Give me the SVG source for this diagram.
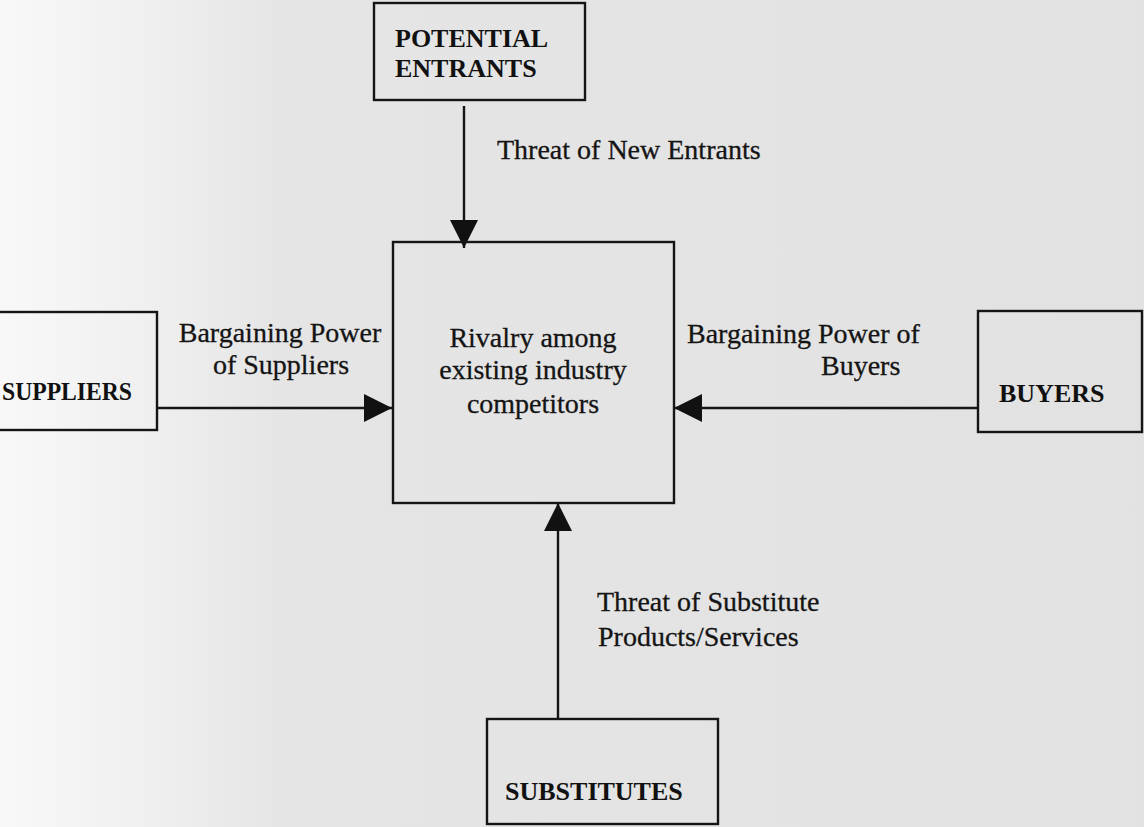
<svg xmlns="http://www.w3.org/2000/svg" width="1144" height="827" viewBox="0 0 1144 827">
  <defs>
    <linearGradient id="paper" x1="0" y1="0" x2="1" y2="0">
      <stop offset="0" stop-color="#f8f8f8"/>
      <stop offset="0.12" stop-color="#f0f0f0"/>
      <stop offset="0.25" stop-color="#e5e5e5"/>
      <stop offset="1" stop-color="#e2e2e2"/>
    </linearGradient>
    <marker id="arrow" markerUnits="userSpaceOnUse" markerWidth="30" markerHeight="30" viewBox="0 0 30 30" refX="29" refY="15" orient="auto">
      <path d="M1,1 L29,15 L1,29 Z" fill="#111"/>
    </marker>
  </defs>
  <style>
    .box { fill: none; stroke: #151515; stroke-width: 2.4; }
    .lbl { font-family: "Liberation Serif", "Times New Roman", serif; font-size: 28px; fill: #141414; stroke: #141414; stroke-width: 0.3; }
    .nodeT { font-family: "Liberation Serif", "Times New Roman", serif; font-size: 26px; font-weight: bold; fill: #111; }
    .conn { stroke: #151515; stroke-width: 2.4; fill: none; marker-end: url(#arrow); }
  </style>
  <rect x="0" y="0" width="1144" height="827" fill="url(#paper)"/>

  <g id="connectors">
    <line class="conn" x1="464" y1="106" x2="464" y2="248"/>
    <line class="conn" x1="157" y1="408" x2="392" y2="408"/>
    <line class="conn" x1="978" y1="408" x2="674" y2="408"/>
    <line class="conn" x1="558" y1="719" x2="558" y2="503"/>
    <text class="lbl" x="497" y="159">Threat of New Entrants</text>
    <text class="lbl" x="280" y="342" text-anchor="middle">Bargaining Power</text>
    <text class="lbl" x="281" y="374" text-anchor="middle">of Suppliers</text>
    <text class="lbl" x="687" y="343">Bargaining Power of</text>
    <text class="lbl" x="821" y="375">Buyers</text>
    <text class="lbl" x="597" y="611">Threat of Substitute</text>
    <text class="lbl" x="598" y="646">Products/Services</text>
  </g>

  <g id="potential-entrants">
    <rect class="box" x="374" y="3" width="211" height="97"/>
    <text class="nodeT" x="395" y="47">POTENTIAL</text>
    <text class="nodeT" x="395" y="77">ENTRANTS</text>
  </g>

  <g id="rivalry">
    <rect class="box" x="393" y="242" width="281" height="261"/>
    <text class="lbl" x="533" y="347" text-anchor="middle">Rivalry among</text>
    <text class="lbl" x="533" y="379" text-anchor="middle">existing industry</text>
    <text class="lbl" x="533" y="413" text-anchor="middle">competitors</text>
  </g>

  <g id="suppliers">
    <rect class="box" x="-10" y="312" width="167" height="118"/>
    <text class="nodeT" x="2" y="400" textLength="130" lengthAdjust="spacingAndGlyphs">SUPPLIERS</text>
  </g>

  <g id="buyers">
    <rect class="box" x="978" y="311" width="164" height="121"/>
    <text class="nodeT" x="999" y="402">BUYERS</text>
  </g>

  <g id="substitutes">
    <rect class="box" x="487" y="719" width="231" height="105"/>
    <text class="nodeT" x="505" y="800">SUBSTITUTES</text>
  </g>
</svg>
